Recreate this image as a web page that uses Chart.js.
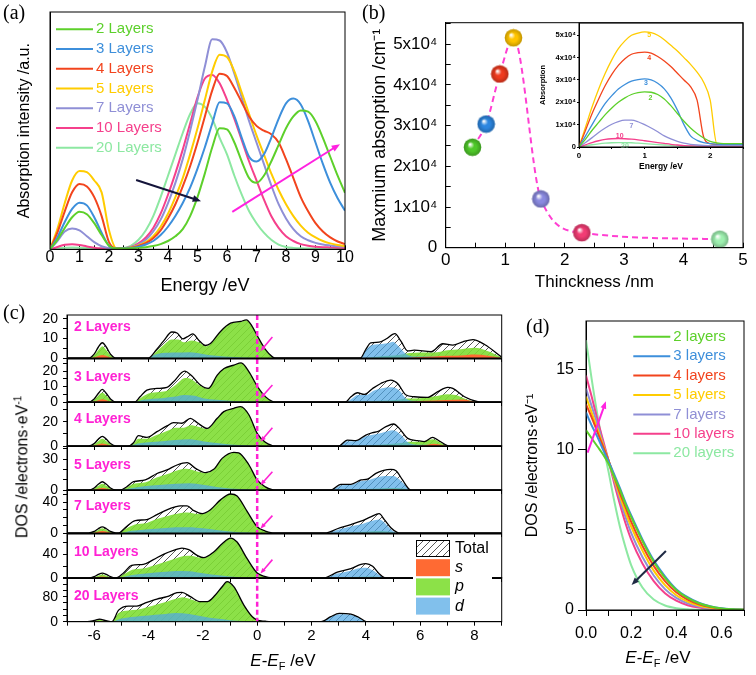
<!DOCTYPE html>
<html>
<head>
<meta charset="utf-8">
<title>Layer-dependent absorption and DOS</title>
<script src="https://cdn.jsdelivr.net/npm/chart.js@4.4.1/dist/chart.umd.min.js"></script>
<style>
  body { margin: 0; background: #fff; }
  #page { position: relative; width: 756px; height: 675px; overflow: hidden; font-family: 'Liberation Sans', Arial, sans-serif; color: #000; }
  canvas { position: absolute; }
  .tag { position: absolute; font: 20px 'Liberation Serif', 'Times New Roman', serif; line-height: 20px; }
  .ttl { position: absolute; font-size: 17px; line-height: 1; white-space: nowrap; transform: translate(-50%, -50%); }
  .ttl sub { font-size: 11px; vertical-align: -4px; line-height: 0; }
  .rot { transform: translate(-50%, -50%) rotate(-90deg); }
</style>
</head>
<body>
<div id="page">
  <canvas id="chartA"></canvas>
  <canvas id="chartB"></canvas>
  <canvas id="chartInset"></canvas>
  <canvas id="dos0"></canvas>
  <canvas id="dos1"></canvas>
  <canvas id="dos2"></canvas>
  <canvas id="dos3"></canvas>
  <canvas id="dos4"></canvas>
  <canvas id="dos5"></canvas>
  <canvas id="dos6"></canvas>
  <canvas id="chartD"></canvas>

  <div class="tag" style="left:3px;top:2px">(a)</div>
  <div class="tag" style="left:362px;top:2px">(b)</div>
  <div class="tag" style="left:3px;top:302px">(c)</div>
  <div class="tag" style="left:526px;top:316px">(d)</div>

  <div class="ttl" style="left:205px;top:285px;font-size:18px">Energy /eV</div>
  <div class="ttl rot" style="left:22px;top:467px;font-size:16px">DOS /electrons·eV<sup style="font-size:10px">-1</sup></div>
  <div class="ttl" style="left:283px;top:660px"><i>E</i>-<i>E</i><sub>F</sub> /eV</div>
  <div class="ttl" style="left:658px;top:657px"><i>E</i>-<i>E</i><sub>F</sub> /eV</div>
</div>
<script>
// === (a) absorption spectra ===
const energyA = [0,0.25,0.5,0.75,1,1.25,1.5,1.75,2,2.25,2.5,2.75,3,3.25,3.5,3.75,4,4.25,4.5,4.75,5,
  5.25,5.5,5.75,6,6.25,6.5,6.75,7,7.25,7.5,7.75,8,8.25,8.5,8.75,9,9.25,9.5,9.75,10];
const absA2 = [0,4,9,13.5,15.8,14.8,11,6,1.5,0.3,0.3,0.4,0.6,0.9,1.4,2.2,3.5,5.5,8.5,14,22,32,43,51,50.5,45,37,30,28,31,37,44,51,56,58.5,58,54,47,39,31,23.8];
const absA3 = [0,5,11.5,17,19.6,18.5,13.5,7,1.5,0.3,0.4,0.6,1.1,2,3.5,6,9.5,14,19.5,26,34,43,53,62,61.5,56,47,39,37,40,47,55,61.5,63.5,61,54,45,36,28,21.5,16.3];
const absA4 = [0,7,16,24,27.5,26.5,22,14,3,0.4,0.4,0.7,1.4,2.6,4.7,8,13,19,26.5,35,45,56,67,74,73,68,62,56,52,50,48.5,45,38,30,22,16,11,7.5,5,3.3,2.2];
const absA5 = [0,8.5,19.5,29,33,32.5,29,24,8,0.4,0.4,0.8,1.6,3,5.5,9.5,15,22,30,40,51,63,75,82,81,75,66,57,48,40,32,25,19,14,10,7,5,3.5,2.5,1.8,1.3];
const absA7 = [0,3.5,7.5,8.8,8,5.5,3,1.3,0.5,0.3,0.4,1,2,4,7.5,12.5,19.5,28,38,50,63,77,88.5,88,83,74,64,54,45,36,27,19,13,8.5,5.5,3.8,2.7,2,1.6,1.3,1.1];
const absA10 = [0,1,1.9,2.1,1.8,1.2,0.7,0.4,0.3,0.2,0.5,1,2.5,5,9,15,23,32,42,53,64,72,73.5,70,63,55,46,37,29,21,14,9,5.5,3.5,2.2,1.5,1.1,0.9,0.8,0.7,0.6];
const absA20 = [0,0.4,0.7,0.8,0.7,0.5,0.35,0.25,0.2,0.2,0.5,1.5,4,8,14,22,31,40,49,57,61.5,60,55,47,40,31,23,16,11,7,4,2,1,0.6,0.4,0.3,0.3,0.3,0.3,0.3,0.3];
const layersA = ['2 Layers','3 Layers','4 Layers','5 Layers','7 Layers','10 Layers','20 Layers'];

// === (b) maximum absorption vs thickness (x10^4 cm^-1) ===
const thickness = [0.45, 0.68, 0.91, 1.14, 1.60, 2.29, 4.61];
const maxAbs = [2.47, 3.04, 4.27, 5.16, 1.20, 0.37, 0.21];

// inset: absorption (x10^4) below 2.5 eV
const energyIn = [0,0.1,0.2,0.3,0.4,0.5,0.6,0.7,0.8,0.9,1.0,1.1,1.2,1.3,1.4,1.5,1.6,1.7,1.8,1.9,2.0,2.1,2.2,2.3,2.4,2.5];
const ins2 = [0,0.35,0.75,1.1,1.45,1.75,2.0,2.2,2.35,2.43,2.47,2.45,2.35,2.15,1.85,1.5,1.15,0.85,0.6,0.4,0.25,0.18,0.15,0.15,0.15,0.15];
const ins3 = [0,0.5,1.0,1.5,1.95,2.3,2.6,2.8,2.95,3.02,3.05,3.0,2.85,2.6,2.2,1.65,1.0,0.5,0.3,0.2,0.15,0.13,0.12,0.12,0.12,0.12];
const ins4 = [0,0.75,1.5,2.15,2.75,3.25,3.65,3.95,4.15,4.22,4.25,4.2,4.05,3.85,3.6,3.3,3.0,2.7,2.1,0.45,0.15,0.12,0.12,0.12,0.12,0.12];
const ins5 = [0,0.9,1.8,2.6,3.3,3.9,4.4,4.75,5.0,5.1,5.15,5.12,5.0,4.8,4.55,4.3,4.0,3.7,3.35,2.9,2.1,0.15,0.12,0.12,0.12,0.12];
const ins7 = [0,0.2,0.42,0.65,0.85,1.02,1.14,1.2,1.2,1.13,1.0,0.85,0.68,0.5,0.36,0.25,0.17,0.12,0.09,0.07,0.06,0.06,0.06,0.06,0.06,0.06];
const ins10 = [0,0.1,0.2,0.28,0.34,0.37,0.38,0.37,0.35,0.32,0.28,0.24,0.2,0.16,0.12,0.09,0.06,0.05,0.04,0.04,0.04,0.04,0.04,0.04,0.04,0.04];
const ins20 = [0,0.05,0.1,0.14,0.17,0.19,0.2,0.2,0.19,0.17,0.15,0.13,0.11,0.09,0.07,0.05,0.04,0.04,0.04,0.04,0.04,0.04,0.04,0.04,0.04,0.04];
const insetTags = ['2','3','4','5','7','10','20'];
const insetTagX = [1.09, 1.02, 1.07, 1.07, 0.8, 0.62, 0.7];
const insetTagY = [2.2, 2.87, 4.0, 5.0, 0.94, 0.49, 0.06];

// === (c) projected DOS, [E, DOS] pairs ===
const tot2 = [[-7,0],[-6.2,0],[-6.0,2],[-5.85,5.5],[-5.7,7.8],[-5.55,5.5],[-5.4,2],[-5.2,0],[-4.0,0],[-3.7,4.4],[-3.45,8.6],[-3.14,13.3],[-2.95,12.8],[-2.73,9.8],[-2.58,10.8],[-2.37,12.3],[-2.15,9.1],[-1.9,6.4],[-1.72,7.4],[-1.35,13.6],[-0.98,17.8],[-0.61,18.7],[-0.4,19.5],[-0.18,16.1],[0,11.5],[0.3,4.4],[0.55,0.7],[0.65,0],[3.8,0],[4.0,4.4],[4.18,7.7],[4.49,8.1],[4.74,9.7],[5.07,12.5],[5.29,8.6],[5.54,3.6],[5.78,4.0],[6.4,3.2],[6.83,7.3],[7.2,6.6],[7.57,8.3],[7.94,9.4],[8.37,6.9],[9,0.5]];
const p2 = [[-7,0],[-6.2,0],[-6.0,1.5],[-5.85,4],[-5.7,6],[-5.55,4],[-5.4,1.5],[-5.2,0],[-4.0,0],[-3.7,3.5],[-3.45,6.5],[-3.15,9.5],[-2.9,9.5],[-2.7,8],[-2.4,9],[-2.15,8],[-1.9,6],[-1.72,7.2],[-1.35,13.4],[-0.98,17.6],[-0.61,18.5],[-0.4,19.3],[-0.18,15.9],[0,11.3],[0.3,4.3],[0.55,0.6],[0.65,0],[3.8,0],[4.5,0.8],[5.2,1.5],[5.6,2.5],[6.0,2.8],[6.5,2.8],[7.0,4],[7.5,4.5],[8,5.2],[8.5,3.5],[9,0.3]];
const d2 = [[-7,0],[-6.1,0],[-5.7,0.8],[-5.3,0],[-4.0,0],[-3.8,1.5],[-3.5,2.5],[-3,2.8],[-2.5,3],[-2.2,2.5],[-1.8,1.5],[-1.2,0.8],[-0.5,0.3],[0,0.1],[0.3,0],[3.8,0],[4.0,4],[4.2,6.5],[4.5,7],[4.8,7.5],[5.0,8.3],[5.2,6],[5.5,1.8],[5.8,0.8],[6.5,0.8],[7.5,1],[8.5,0.8],[9,0]];
const s2 = [[-7,0],[-6.1,0],[-5.7,1.5],[-5.3,0],[5.5,0],[6,0.5],[6.5,0.8],[7,1.1],[7.5,1.3],[8,1.8],[8.5,1.2],[9,0]];

const tot3 = [[-7,0],[-6.2,0],[-6.0,2],[-5.85,5.5],[-5.7,8.2],[-5.55,5.5],[-5.4,2],[-5.2,0],[-4.5,0],[-4.31,3.4],[-4.06,7.7],[-3.69,8.8],[-3.32,9.5],[-3.08,13.1],[-2.67,20],[-2.4,16.8],[-2.09,11],[-1.8,8.8],[-1.47,17.4],[-1.22,21.7],[-0.86,23.9],[-0.59,25.4],[-0.3,19.6],[0,10.3],[0.3,3.5],[0.55,0.5],[0.65,0],[3.25,0],[3.45,3.4],[3.69,6],[3.94,4.9],[4.25,8.8],[4.55,12],[4.92,14.2],[5.17,12],[5.48,4.5],[5.78,3.4],[6.27,3],[6.65,6.7],[7.01,9.5],[7.2,8.8],[7.63,3.4],[8.12,0.2],[8.3,0],[9,0]];
const p3 = [[-7,0],[-6.2,0],[-6.0,1.5],[-5.85,4],[-5.7,6],[-5.55,4],[-5.4,1.5],[-5.2,0],[-4.5,0],[-4.3,2.5],[-4.0,5.5],[-3.6,6.5],[-3.3,7.5],[-3.0,11],[-2.65,15.5],[-2.4,14.5],[-2.1,10.5],[-1.8,8.6],[-1.47,17.3],[-1.22,21.6],[-0.86,23.8],[-0.59,25.3],[-0.3,19.5],[0,10.2],[0.3,3.4],[0.55,0.5],[0.65,0],[3.25,0],[4.5,0.8],[5.2,1.5],[5.5,2.3],[6,2.5],[6.5,3.5],[7,5],[7.3,4.5],[7.7,1.8],[8.1,0],[9,0]];
const d3 = [[-7,0],[-6.1,0],[-5.7,0.8],[-5.3,0],[-4.5,0],[-4.2,1.5],[-3.5,2.5],[-3,3.5],[-2.7,4.5],[-2.3,4],[-2,2.5],[-1.5,1.5],[-1,0.8],[0,0.1],[0.3,0],[3.25,0],[3.5,2.5],[3.7,4.5],[4.0,4.5],[4.3,7.5],[4.6,9],[4.9,9.5],[5.2,8],[5.5,2],[5.8,0.8],[6.5,0.6],[7,0.8],[7.5,0.5],[8.1,0],[9,0]];
const s3 = [[-7,0],[-6.1,0],[-5.7,1.8],[-5.3,0],[5.5,0],[6,0.6],[6.5,0.9],[7,1.3],[7.6,1.6],[8.1,0],[9,0]];

const tot4 = [[-7,0],[-6.2,0],[-6.0,2],[-5.85,5.5],[-5.7,8],[-5.55,5.5],[-5.4,2],[-5.2,0],[-4.75,0],[-4.55,2.7],[-4.37,8.5],[-4.06,7.1],[-3.69,11.8],[-3.32,16.5],[-3.08,19.2],[-2.77,18.7],[-2.46,22.8],[-2.21,19.2],[-1.84,14.5],[-1.47,22.8],[-1.23,28.3],[-0.86,31],[-0.61,32.4],[-0.3,25.5],[0,10.4],[0.3,3],[0.55,0.4],[0.65,0],[3.0,0],[3.32,4.9],[3.63,4.4],[4.0,9],[4.25,11],[4.43,11.8],[4.74,15.9],[5.02,18.1],[5.23,14.5],[5.54,6.3],[5.91,4.4],[6.15,3.6],[6.46,7.1],[6.65,4.9],[7.0,0.3],[7.1,0],[9,0]];
const p4 = [[-7,0],[-6.2,0],[-6.0,1.5],[-5.85,4],[-5.7,6],[-5.55,4],[-5.4,1.5],[-5.2,0],[-4.75,0],[-4.55,2],[-4.37,6],[-4.06,6],[-3.7,9],[-3.3,12.5],[-3.0,15],[-2.7,15],[-2.45,17],[-2.2,16],[-1.84,14],[-1.47,22.7],[-1.23,28.2],[-0.86,30.9],[-0.61,32.3],[-0.3,25.4],[0,10.3],[0.3,3],[0.55,0.4],[0.65,0],[3,0],[4.5,1],[5.3,2.5],[5.6,3.5],[6,3.5],[6.45,5.5],[6.7,3.5],[7,0],[9,0]];
const d4 = [[-7,0],[-6.1,0],[-5.7,0.8],[-5.3,0],[-4.75,0],[-4.4,2],[-4,3],[-3.5,4],[-3,5],[-2.5,5.5],[-2,4],[-1.5,2.5],[-1,1.2],[-0.3,0.4],[0,0],[3.0,0],[3.3,4],[3.6,4],[4.0,8],[4.3,9.5],[4.6,11],[5.0,13],[5.3,9],[5.55,3],[5.9,1],[6.5,1],[7,0],[9,0]];
const s4 = [[-7,0],[-6.1,0],[-5.7,2],[-5.3,0],[5.8,0],[6.2,0.8],[6.5,1.8],[6.8,0.8],[7,0],[9,0]];

const tot5 = [[-7,0],[-6.2,0],[-6.0,2],[-5.85,5.5],[-5.7,8],[-5.55,5.5],[-5.4,2],[-5.2,0],[-5.05,0],[-4.8,3.2],[-4.55,8],[-4.12,9.7],[-3.69,16],[-3.32,19.4],[-2.95,24.2],[-2.58,26.5],[-2.27,21],[-1.9,16.8],[-1.6,20],[-1.29,30.6],[-0.86,36.5],[-0.68,36],[-0.3,24.2],[0,9.7],[0.3,3],[0.55,0.3],[0.65,0],[2.7,0],[3.08,5.5],[3.45,5.5],[3.82,9.7],[4.06,10.6],[4.37,16.1],[4.62,18.7],[4.92,20],[5.11,18.7],[5.35,9.7],[5.6,0.6],[5.7,0],[9,0]];
const p5 = [[-7,0],[-6.2,0],[-6.0,1.5],[-5.85,4],[-5.7,6],[-5.55,4],[-5.4,1.5],[-5.2,0],[-5.05,0],[-4.8,2.5],[-4.55,6],[-4.1,7.5],[-3.7,12],[-3.3,15.5],[-2.95,19],[-2.6,20.5],[-2.27,18.5],[-1.9,16.5],[-1.6,19.9],[-1.29,30.5],[-0.86,36.4],[-0.68,35.9],[-0.3,24.1],[0,9.6],[0.3,3],[0.55,0.3],[0.65,0],[2.7,0],[4,1],[5,2],[5.4,1.5],[5.6,0.3],[5.7,0],[9,0]];
const d5 = [[-7,0],[-6.1,0],[-5.7,0.8],[-5.3,0],[-5.05,0],[-4.6,2],[-4,4],[-3.5,5],[-3,6],[-2.5,6.5],[-2,5],[-1.5,3],[-1,1.5],[-0.3,0.5],[0,0],[2.7,0],[3.1,4.5],[3.45,5],[3.8,8.5],[4.1,9.5],[4.4,12],[4.7,13.5],[5.0,13.5],[5.2,11],[5.4,6],[5.6,0.5],[5.7,0],[9,0]];
const s5 = [[-7,0],[-6.1,0],[-5.7,2],[-5.3,0],[4.5,0],[5,0.8],[5.3,0],[9,0]];

const tot7 = [[-7,0],[-6.2,0],[-6.0,2],[-5.85,5.5],[-5.7,8],[-5.55,5.5],[-5.4,2],[-5.2,0],[-5.1,0],[-4.86,6.8],[-4.49,16],[-4.06,17.4],[-3.69,23.8],[-3.26,31],[-2.83,35.2],[-2.58,35.2],[-2.33,28.9],[-2.02,25],[-1.72,30.1],[-1.35,42.9],[-0.98,50.5],[-0.74,48],[-0.37,28],[0,8],[0.3,2.5],[0.55,0.3],[0.65,0],[2.5,0],[2.95,5.5],[3.45,11],[3.82,15.3],[4.18,20.8],[4.49,25],[4.68,17.4],[4.92,6.8],[5.17,0.4],[5.25,0],[9,0]];
const p7 = [[-7,0],[-6.2,0],[-6.0,1.5],[-5.85,4],[-5.7,6],[-5.55,4],[-5.4,1.5],[-5.2,0],[-5.1,0],[-4.86,5],[-4.5,11],[-4.06,13],[-3.7,18],[-3.3,22],[-2.8,26],[-2.55,26.5],[-2.3,25],[-2.02,24.5],[-1.72,29.9],[-1.35,42.8],[-0.98,50.4],[-0.74,47.9],[-0.37,27.9],[0,7.9],[0.3,2.5],[0.55,0.3],[0.65,0],[2.5,0],[4,1.5],[4.5,2.5],[4.9,1.5],[5.2,0],[9,0]];
const d7 = [[-7,0],[-6.1,0],[-5.7,0.8],[-5.3,0],[-5.1,0],[-4.6,3],[-4,5],[-3.5,6],[-3,7.5],[-2.5,7.5],[-2,6],[-1.5,4],[-1,2],[-0.3,0.5],[0,0],[2.5,0],[3,4.5],[3.5,9],[3.9,12],[4.2,15.5],[4.5,17.5],[4.7,13],[4.95,4],[5.2,0],[9,0]];
const s7 = [[-7,0],[-6.1,0],[-5.7,2.5],[-5.3,0],[9,0]];

const tot10 = [[-7,0],[-6.2,0],[-6.0,2.2],[-5.85,6],[-5.7,8.4],[-5.55,6],[-5.4,2.2],[-5.25,0],[-5.2,0],[-4.92,8.4],[-4.62,21.4],[-4.19,23],[-3.82,31],[-3.45,40],[-3.08,46.7],[-2.77,50.6],[-2.52,47.8],[-2.21,38.2],[-1.97,34.3],[-1.6,43.9],[-1.29,57.9],[-0.98,67.5],[-0.74,60.7],[-0.37,32.6],[0,8.4],[0.3,2.5],[0.55,0.3],[0.65,0],[2.45,0],[2.95,10],[3.45,15.7],[3.82,23],[4.0,24.2],[4.25,19.7],[4.49,7.3],[4.68,0.6],[4.75,0],[9,0]];
const p10 = [[-7,0],[-6.2,0],[-6.0,1.5],[-5.85,4],[-5.7,6],[-5.55,4],[-5.4,1.5],[-5.25,0],[-5.2,0],[-4.92,6],[-4.6,14],[-4.2,16],[-3.8,21],[-3.4,27],[-3.0,33],[-2.7,37],[-2.45,37.5],[-2.2,35],[-1.97,34],[-1.6,43.8],[-1.29,57.8],[-0.98,67.4],[-0.74,60.6],[-0.37,32.5],[0,8.3],[0.3,2.5],[0.55,0.3],[0.65,0],[2.45,0],[3.5,1.5],[4.2,2.5],[4.6,0.8],[4.75,0],[9,0]];
const d10 = [[-7,0],[-6.1,0],[-5.7,1],[-5.3,0],[-5.2,0],[-4.6,5],[-4,8],[-3.5,10],[-3,12],[-2.5,11.5],[-2,8],[-1.5,5],[-1,2.5],[-0.3,0.6],[0,0],[2.45,0],[2.9,7],[3.4,12],[3.8,17],[4.0,17.5],[4.25,13],[4.5,5],[4.75,0],[9,0]];
const s10 = [[-7,0],[-6.1,0],[-5.7,2.5],[-5.3,0],[9,0]];

const tot20 = [[-7,0],[-6.25,0],[-6.0,4],[-5.8,8.5],[-5.6,4],[-5.4,0.5],[-5.35,0],[-5.1,37],[-4.74,50],[-4.43,50],[-4.06,62],[-3.69,72.5],[-3.32,80],[-2.95,92.8],[-2.77,93.9],[-2.46,80],[-2.09,64],[-1.84,64],[-1.54,85.3],[-1.29,112],[-1.11,128],[-0.86,112],[-0.49,53.3],[-0.18,16],[0,5.3],[0.3,1.5],[0.5,0],[2.35,0],[2.71,16],[3.02,26.7],[3.45,24.5],[3.69,16],[3.94,3.2],[4.0,0],[9,0]];
const p20 = [[-7,0],[-6.25,0],[-6.0,3],[-5.8,6.5],[-5.6,3],[-5.4,0.4],[-5.35,0],[-5.1,28],[-4.74,36],[-4.43,38],[-4.06,46],[-3.7,55],[-3.3,65],[-2.95,74],[-2.75,78],[-2.45,72],[-2.09,63],[-1.84,63.5],[-1.54,85.2],[-1.29,111.9],[-1.11,127.9],[-0.86,111.9],[-0.49,53.2],[-0.18,15.9],[0,5.2],[0.3,1.5],[0.5,0],[2.35,0],[3,1.5],[3.5,1.5],[4,0],[9,0]];
const d20 = [[-7,0],[-6.2,0],[-5.8,1.5],[-5.4,0],[-5.35,0],[-5,10],[-4.5,16],[-4,20],[-3.5,24],[-3,28],[-2.5,25],[-2,17],[-1.5,10],[-1,5],[-0.5,2],[0,0],[2.35,0],[2.7,15],[3.0,24],[3.45,22],[3.7,14],[3.94,3],[4.0,0],[9,0]];
const s20 = [[-7,0],[-6.2,0],[-5.8,2.5],[-5.4,0],[9,0]];

const dosLayers = ['2 Layers','3 Layers','4 Layers','5 Layers','7 Layers','10 Layers','20 Layers'];
const dosMax = [22, 27.9, 36.2, 42.6, 55.7, 74.3, 140.8];
const dosStep = [5, 5, 10, 10, 10, 20, 20];
const dosMajor = [10, 10, 20, 30, 40, 40, 80];
// arrow near E_F: [E tail, DOS tail, E tip, DOS tip]
const dosArrow = [[0.56,10.8,0.12,3.5],[0.56,11,0.12,2.4],[0.56,15,0.12,3.5],[0.56,17.7,0.12,4.8],[0.56,22.5,0.12,5.6],[0.56,31,0.12,7.4]];

// === (d) DOS just above E_F ===
const dosX = [0,0.025,0.05,0.075,0.1,0.125,0.15,0.175,0.2,0.25,0.3,0.35,0.4,0.45,0.5,0.55,0.6,0.65,0.7];
const dos2L = [11.2,10.7,10.2,9.7,9.1,8.3,7.5,6.6,5.8,4.3,3.0,2.0,1.25,0.75,0.42,0.22,0.1,0.04,0.02];
const dos3L = [12.3,11.5,10.8,10.0,9.25,8.45,7.6,6.7,5.9,4.4,3.1,2.1,1.3,0.8,0.45,0.24,0.11,0.05,0.02];
const dos4L = [12.8,12.0,11.1,10.2,9.3,8.3,7.3,6.4,5.5,4.0,2.75,1.8,1.1,0.65,0.36,0.18,0.08,0.03,0.01];
const dos5L = [13.3,12.3,11.3,10.3,9.3,8.2,7.1,6.1,5.2,3.7,2.45,1.55,0.92,0.52,0.28,0.14,0.06,0.02,0.01];
const dos7L = [13.8,12.7,11.6,10.4,9.3,8.1,6.9,5.8,4.8,3.3,2.15,1.3,0.75,0.41,0.21,0.1,0.04,0.02,0];
const dos10L = [14.6,13.3,11.9,10.6,9.3,7.9,6.6,5.4,4.4,2.9,1.8,1.05,0.58,0.3,0.15,0.07,0.03,0.01,0];
const dos20L = [16.8,14.4,12.2,10.3,8.6,6.8,5.2,3.9,2.8,1.4,0.65,0.28,0.11,0.04,0.01,0,0,0,0];
const layersD = ['2 layers','3 layers','4 layers','5 layers','7 layers','10 layers','20 layers'];

// colours
const lineColors = ['#5dd02b','#3d8fdb','#f2441d','#ffcc00','#8f8fd6','#f5408c','#8de8a2'];
const ballColors = ['#4fc82a','#2c86e0','#ef3a1e','#ffc400','#8a8ae0','#f23c74','#9ef0b0'];
const magenta = '#ff22d4';

Chart.defaults.font.family = "'Liberation Sans', Arial, sans-serif";
Chart.defaults.color = '#000';
Chart.defaults.animation = false;
Chart.defaults.plugins.legend.display = false;
Chart.defaults.plugins.tooltip.enabled = false;
Chart.defaults.elements.point.radius = 0;
Chart.defaults.elements.point.hoverRadius = 0;

// canvas box and plot area are page pixels: [left, top, width, height] and [x0, y0, x1, y1]
function place(id, box, area) {
  const c = document.getElementById(id);
  c.width = box[2]; c.height = box[3];
  c.style.left = box[0] + 'px'; c.style.top = box[1] + 'px';
  return {
    canvas: c,
    padding: {left: 0, top: area[1] - box[1], right: box[0] + box[2] - area[2], bottom: 0},
    yw: area[0] - box[0],
    xh: box[1] + box[3] - area[3]
  };
}

function axis(size, o) {
  return {
    type: 'linear', min: o.min, max: o.max,
    border: {display: true, color: '#000', width: 1},
    grid: {display: true, drawOnChartArea: false, drawTicks: !!o.tl, tickLength: o.tl || 0, color: '#000'},
    ticks: {display: !!o.fmt, stepSize: o.step, includeBounds: false, autoSkip: false, maxRotation: 0,
            padding: o.pad || 0, font: o.font, callback: o.fmt || (() => '')},
    title: o.title || {display: false},
    afterFit(s) {
      if (s.isHorizontal()) s.height = size; else s.width = size;
      s.paddingLeft = s.paddingRight = s.paddingTop = s.paddingBottom = 0;
    }
  };
}

function every(m) {
  return v => Math.abs(v / m - Math.round(v / m)) < 1e-6 ? String(Math.round(v * 100) / 100) : '';
}
const tenK = v => Math.abs(v - Math.round(v)) < 1e-6 ? (Math.round(v) === 0 ? '0' : Math.round(v) + 'x10⁴') : '';

const frame = {
  id: 'frame',
  afterDraw(chart) {
    const {ctx, chartArea: a} = chart;
    ctx.save();
    ctx.strokeStyle = '#000'; ctx.lineWidth = 1;
    ctx.strokeRect(a.left, a.top, a.right - a.left, a.bottom - a.top);
    ctx.restore();
  }
};

function drawArrow(ctx, x0, y0, x1, y1, color, w, head) {
  const ang = Math.atan2(y1 - y0, x1 - x0);
  ctx.strokeStyle = color; ctx.fillStyle = color; ctx.lineWidth = w;
  ctx.beginPath();
  ctx.moveTo(x0, y0);
  ctx.lineTo(x1 - Math.cos(ang) * head * 0.7, y1 - Math.sin(ang) * head * 0.7);
  ctx.stroke();
  ctx.beginPath();
  ctx.moveTo(x1, y1);
  ctx.lineTo(x1 - head * Math.cos(ang - 0.38), y1 - head * Math.sin(ang - 0.38));
  ctx.lineTo(x1 - head * Math.cos(ang + 0.38), y1 - head * Math.sin(ang + 0.38));
  ctx.closePath();
  ctx.fill();
}

function arrows(list) {
  return {
    id: 'arrows',
    afterDatasetsDraw(chart) {
      const {ctx, scales: {x, y}} = chart;
      ctx.save();
      list.forEach(a => drawArrow(ctx, x.getPixelForValue(a.from[0]), y.getPixelForValue(a.from[1]),
        x.getPixelForValue(a.to[0]), y.getPixelForValue(a.to[1]), a.color, a.width, a.head));
      ctx.restore();
    }
  };
}

function lineLegend(o) {
  return {
    id: 'lineLegend',
    afterDraw(chart) {
      const ctx = chart.ctx;
      ctx.save();
      ctx.font = o.font; ctx.textBaseline = 'middle';
      chart.data.datasets.forEach((ds, i) => {
        const y = o.y + i * o.dy;
        ctx.strokeStyle = ds.borderColor; ctx.lineWidth = 2;
        ctx.beginPath(); ctx.moveTo(o.x, y); ctx.lineTo(o.x + o.len, y); ctx.stroke();
        ctx.fillStyle = ds.borderColor;
        ctx.fillText(ds.label, o.x + o.len + 3, y);
      });
      ctx.restore();
    }
  };
}

function makeHatch() {
  const c = document.createElement('canvas');
  c.width = 7; c.height = 7;
  const g = c.getContext('2d');
  g.strokeStyle = 'rgba(35,35,35,0.85)'; g.lineWidth = 0.9;
  g.beginPath();
  g.moveTo(0, 7); g.lineTo(7, 0);
  g.moveTo(-3.5, 3.5); g.lineTo(3.5, -3.5);
  g.moveTo(3.5, 10.5); g.lineTo(10.5, 3.5);
  g.stroke();
  return g.createPattern(c, 'repeat');
}
const hatch = makeHatch();

function sphere(color) {
  const c = document.createElement('canvas');
  c.width = c.height = 19;
  const g = c.getContext('2d');
  const grad = g.createRadialGradient(7, 6.5, 0.5, 9.5, 9.5, 9);
  grad.addColorStop(0, '#ffffff');
  grad.addColorStop(0.35, color);
  grad.addColorStop(1, color);
  g.fillStyle = grad;
  g.beginPath(); g.arc(9.5, 9.5, 8.8, 0, Math.PI * 2); g.fill();
  const rim = g.createRadialGradient(9.5, 9.5, 4, 9.5, 9.5, 9);
  rim.addColorStop(0, 'rgba(0,0,0,0)');
  rim.addColorStop(1, 'rgba(0,0,0,0.25)');
  g.fillStyle = rim;
  g.beginPath(); g.arc(9.5, 9.5, 8.8, 0, Math.PI * 2); g.fill();
  return c;
}

// === (a) ===
const seriesA = [absA2, absA3, absA4, absA5, absA7, absA10, absA20];
let L = place('chartA', [0, 0, 360, 300], [50, 12, 345, 249.3]);
new Chart(L.canvas, {
  type: 'line',
  data: {
    datasets: seriesA.map((ys, i) => ({
      label: layersA[i],
      data: energyA.map((x, j) => ({x, y: ys[j]})),
      borderColor: lineColors[i], borderWidth: 2, fill: false, cubicInterpolationMode: 'monotone'
    }))
  },
  options: {
    responsive: false, devicePixelRatio: 1,
    layout: {padding: L.padding},
    scales: {
      x: axis(L.xh, {min: 0, max: 10, step: 0.5, tl: -4, pad: 3, font: {size: 16}, fmt: every(1)}),
      y: axis(L.yw, {min: 0, max: 100,
        title: {display: true, text: 'Absorption intensity /a.u.', font: {size: 16}, padding: {top: 15.4, bottom: 0}}})
    }
  },
  plugins: [frame, lineLegend({x: 56, y: 29.3, dy: 19.73, len: 37, font: "15px 'Liberation Sans'"}),
    arrows([{from: [2.92, 29.2], to: [5.12, 20.3], color: '#14143a', width: 2, head: 9},
            {from: [6.18, 15.8], to: [9.83, 44.3], color: '#ff22e0', width: 2, head: 9}])]
});

// === (b) ===
L = place('chartB', [360, 0, 396, 300], [445.7, 22.7, 743, 247.7]);
new Chart(L.canvas, {
  type: 'line',
  data: {
    datasets: [{
      data: thickness.map((x, i) => ({x, y: maxAbs[i]})),
      borderColor: '#ff3fd2', borderWidth: 2, borderDash: [6, 4], fill: false,
      cubicInterpolationMode: 'monotone',
      pointStyle: ballColors.map(sphere), pointRadius: 9
    }]
  },
  options: {
    responsive: false, devicePixelRatio: 1,
    layout: {padding: L.padding},
    scales: {
      x: axis(L.xh, {min: 0, max: 5, step: 0.5, tl: -5, pad: 7, font: {size: 17}, fmt: every(1),
        title: {display: true, text: 'Thinckness /nm', font: {size: 17}, padding: {top: 0, bottom: 7.8}}}),
      y: axis(L.yw, {min: 0, max: 5.53, step: 0.5, tl: -5, pad: 13.4, font: {size: 17}, fmt: tenK,
        title: {display: true, text: 'Maxmium absorption /cm⁻¹', font: {size: 18}, padding: {top: 9.2, bottom: 0}}})
    }
  },
  plugins: [frame]
});

// inset
const seriesIn = [ins2, ins3, ins4, ins5, ins7, ins10, ins20];
L = place('chartInset', [530, 18, 226, 165], [579, 23, 743, 147]);
new Chart(L.canvas, {
  type: 'line',
  data: {
    datasets: seriesIn.map((ys, i) => ({
      data: energyIn.map((x, j) => ({x, y: ys[j]})),
      borderColor: lineColors[i], borderWidth: 1.3, fill: false, cubicInterpolationMode: 'monotone'
    }))
  },
  options: {
    responsive: false, devicePixelRatio: 1,
    layout: {padding: L.padding},
    scales: {
      x: axis(L.xh, {min: 0, max: 2.5, step: 0.5, tl: 2, pad: 2, font: {size: 8, weight: 'bold'}, fmt: every(1),
        title: {display: true, text: 'Energy /eV', font: {size: 8.5, weight: 'bold'}, padding: {top: 0, bottom: 11}}}),
      y: axis(L.yw, {min: 0, max: 5.55, step: 1, tl: 2, pad: 1, font: {size: 7.5, weight: 'bold'}, fmt: tenK,
        title: {display: true, text: 'Absorption', font: {size: 7.5, weight: 'bold'}, padding: {top: 8.5, bottom: 0}}})
    }
  },
  plugins: [frame, {
    id: 'insetTags',
    afterDatasetsDraw(chart) {
      const {ctx, scales: {x, y}} = chart;
      ctx.save();
      ctx.font = "bold 7px 'Liberation Sans'"; ctx.textAlign = 'center'; ctx.textBaseline = 'middle';
      insetTags.forEach((t, i) => {
        ctx.fillStyle = lineColors[i];
        ctx.fillText(t, x.getPixelForValue(insetTagX[i]), y.getPixelForValue(insetTagY[i]));
      });
      ctx.restore();
    }
  }]
});

// === (c) ===
const totals = [tot2, tot3, tot4, tot5, tot7, tot10, tot20];
const pOrb = [p2, p3, p4, p5, p7, p10, p20];
const dOrb = [d2, d3, d4, d5, d7, d10, d20];
const sOrb = [s2, s3, s4, s5, s7, s10, s20];
const panelBottoms = [358.7, 402, 446, 490, 533.7, 577.7, 621.7];
const labelDy = [12, 18, 17, 19, 16, 18, 18];
const colS = '#ff6a33', colP = 'rgba(128,222,52,0.9)', colD = 'rgba(80,168,228,0.72)';

const zeroLine = {
  id: 'zeroLine',
  afterDatasetsDraw(chart) {
    const {ctx, chartArea: a, scales: {x}} = chart;
    const px = x.getPixelForValue(0);
    ctx.save();
    ctx.strokeStyle = magenta; ctx.lineWidth = 2.5; ctx.setLineDash([5, 3]);
    ctx.beginPath(); ctx.moveTo(px, a.top); ctx.lineTo(px, a.bottom); ctx.stroke();
    ctx.restore();
  }
};

const dosLegend = {
  id: 'dosLegend',
  afterDraw(chart) {
    const ctx = chart.ctx, oy = 530;
    ctx.save();
    ctx.fillStyle = '#fff';
    ctx.fillRect(413, 537 - oy, 79, 81);
    const rows = [['Total', hatch, ''], ['s', colS, 'italic '], ['p', colP, 'italic '], ['d', colD, 'italic ']];
    rows.forEach((r, i) => {
      const y = 540 + i * 19.2 - oy;
      ctx.fillStyle = r[1];
      ctx.fillRect(416, y, 34, 17);
      if (i === 0) { ctx.strokeStyle = '#000'; ctx.lineWidth = 1; ctx.strokeRect(416.5, y + 0.5, 33, 16); }
      ctx.fillStyle = '#000';
      ctx.font = r[2] + "16px 'Liberation Sans'";
      ctx.textBaseline = 'middle';
      ctx.fillText(r[0], 455, y + 8.5);
    });
    ctx.restore();
  }
};

dosLayers.forEach((name, i) => {
  const top = i === 0 ? 315 : panelBottoms[i - 1];
  const bottom = panelBottoms[i];
  const last = i === dosLayers.length - 1;
  const box = last ? [0, 530, 510, 145] : [0, top - 4, 510, bottom - top + 10];
  const P = place('dos' + i, box, [67, top, 501.7, bottom]);
  const plugins = [frame, zeroLine, {
    id: 'layerName',
    afterDatasetsDraw(chart) {
      const {ctx, chartArea: a} = chart;
      ctx.save();
      ctx.font = "bold 14px 'Liberation Sans'"; ctx.fillStyle = magenta; ctx.textBaseline = 'middle';
      ctx.fillText(name, a.left + 7, a.top + labelDy[i]);
      ctx.restore();
    }
  }];
  if (!last) {
    const a = dosArrow[i];
    plugins.push(arrows([{from: [a[0], a[1]], to: [a[2], a[3]], color: magenta, width: 1.6, head: 6}]));
  } else {
    plugins.push(dosLegend);
  }
  const mono = 'monotone';
  new Chart(P.canvas, {
    type: 'line',
    data: {
      datasets: [
        {label: 'Total', data: totals[i], borderColor: '#000', borderWidth: 1.3, fill: false, order: 0, cubicInterpolationMode: mono},
        {label: 's', data: sOrb[i], borderWidth: 0, borderColor: 'transparent', backgroundColor: colS, fill: 'origin', order: 1, cubicInterpolationMode: mono},
        {label: 'd', data: dOrb[i], borderWidth: 0, borderColor: 'transparent', backgroundColor: colD, fill: 'origin', order: 2, cubicInterpolationMode: mono},
        {label: 'p', data: pOrb[i], borderWidth: 0, borderColor: 'transparent', backgroundColor: colP, fill: 'origin', order: 3, cubicInterpolationMode: mono},
        {label: 'Total area', data: totals[i], borderWidth: 0, borderColor: 'transparent', backgroundColor: hatch, fill: 'origin', order: 4, cubicInterpolationMode: mono}
      ]
    },
    options: {
      responsive: false, devicePixelRatio: 1,
      layout: {padding: P.padding},
      scales: {
        x: axis(P.xh, {min: -7, max: 9, step: 1, tl: 4, pad: 1, font: {size: 15}, fmt: last ? every(2) : null}),
        y: axis(P.yw, {min: 0, max: dosMax[i], step: dosStep[i], tl: 4, pad: 5, font: {size: 14}, fmt: every(dosMajor[i])})
      }
    },
    plugins
  });
});

// === (d) ===
const seriesD = [dos2L, dos3L, dos4L, dos5L, dos7L, dos10L, dos20L];
L = place('chartD', [520, 310, 236, 365], [586, 321, 744, 610]);
new Chart(L.canvas, {
  type: 'line',
  data: {
    datasets: seriesD.map((ys, i) => ({
      label: layersD[i],
      data: dosX.map((x, j) => ({x, y: ys[j]})),
      borderColor: lineColors[i], borderWidth: 2, fill: false, cubicInterpolationMode: 'monotone'
    }))
  },
  options: {
    responsive: false, devicePixelRatio: 1,
    layout: {padding: L.padding},
    scales: {
      x: axis(L.xh, {min: 0, max: 0.7, step: 0.1, tl: 6, pad: 8, font: {size: 16},
        fmt: v => Math.round(v * 10) % 2 === 0 ? (Math.round(v * 10) / 10).toFixed(1) : ''}),
      y: axis(L.yw, {min: 0, max: 18, step: 5, tl: 8, pad: 4, font: {size: 16}, fmt: every(5),
        title: {display: true, text: 'DOS /electrons·eV⁻¹', font: {size: 16}, padding: {top: 3.4, bottom: 0}}})
    }
  },
  plugins: [frame, lineLegend({x: 113.3, y: 26.7, dy: 19.43, len: 37, font: "15px 'Liberation Sans'"}),
    arrows([{from: [0.007, 9.8], to: [0.088, 13.0], color: '#ff22e0', width: 2, head: 8},
            {from: [0.354, 3.68], to: [0.202, 1.56], color: '#1f2a44', width: 2, head: 8}])]
});
</script>
</body>
</html>
